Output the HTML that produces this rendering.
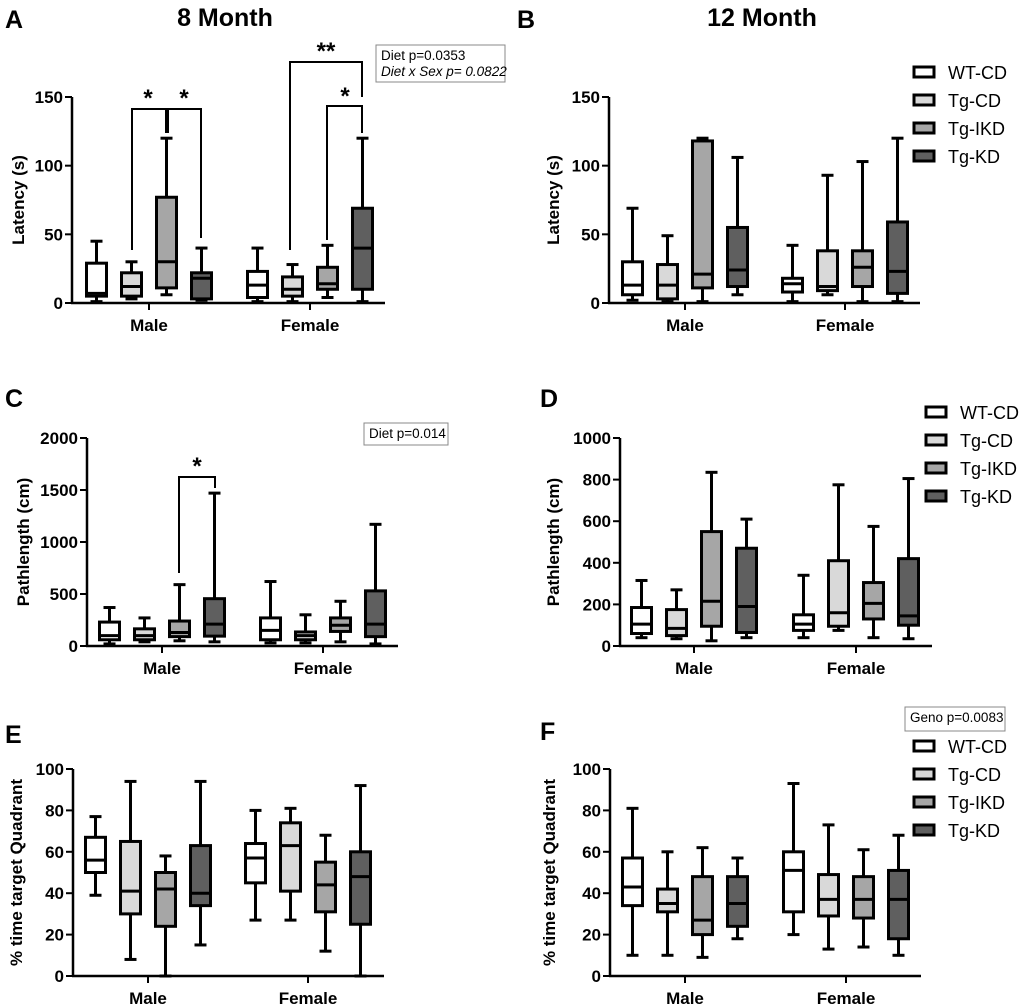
<!DOCTYPE html>
<html><head><meta charset="utf-8"><style>
body{margin:0;background:#fff}
svg{display:block;font-family:"Liberation Sans",Arial,sans-serif}
</style></head><body>
<svg id="fig" width="1020" height="1005" viewBox="0 0 1020 1005"></svg>
<script>
const groups = ["WT-CD","Tg-CD","Tg-IKD","Tg-KD"];
const categories = ["Male","Female"];
const fills = ["#ffffff","#d9d9d9","#a6a6a6","#5f5f5f"];
// [low whisker, q1, median, q3, high whisker] per group per category
const dataA = [[[1,5,7,29,45],[3,5,12,22,30],[6,11,30,77,120],[2,3,18,22,40]],
               [[1,4,13,23,40],[1,5,10,19,28],[4,10,14,26,42],[1,10,40,69,120]]];
const dataB = [[[2,6,13,30,69],[1,3,13,28,49],[1,11,21,118,120],[6,12,24,55,106]],
               [[1,8,14,18,42],[6,9,12,38,93],[1,12,26,38,103],[1,7,23,59,120]]];
const dataC = [[[20,60,100,230,370],[40,60,100,165,270],[50,90,130,240,590],[40,95,210,455,1470]],
               [[30,60,150,270,620],[30,60,100,135,300],[40,140,200,270,430],[20,90,210,530,1170]]];
const dataD = [[[40,60,105,185,315],[35,50,85,175,270],[25,95,215,550,835],[40,65,190,470,610]],
               [[40,75,105,150,340],[75,95,160,410,775],[40,130,205,305,575],[35,100,145,420,805]]];
const dataE = [[[39,50,56,67,77],[8,30,41,65,94],[0,24,42,50,58],[15,34,40,63,94]],
               [[27,45,57,64,80],[27,41,63,74,81],[12,31,44,55,68],[0,25,48,60,92]]];
const dataF = [[[10,34,43,57,81],[10,31,35,42,60],[9,20,27,48,62],[18,24,35,48,57]],
               [[20,31,51,60,93],[13,29,37,49,73],[14,28,37,48,61],[10,18,37,51,68]]];
const ticksLatency = [0,50,100,150];
const ticksPathC = [0,500,1000,1500,2000];
const ticksPathD = [0,200,400,600,800,1000];
const ticksPct = [0,20,40,60,80,100];

const NS="http://www.w3.org/2000/svg";
const svg=document.getElementById('fig');
function el(tag,attrs,parent,text){const e=document.createElementNS(NS,tag);for(const k in attrs)e.setAttribute(k,attrs[k]);if(text!==undefined)e.textContent=text;(parent||svg).appendChild(e);return e;}

const panels=[
 {id:'a',data:dataA,ticks:ticksLatency,max:150,ax:72,y0:303,yt:97,xe:385,cx:[149,310],title:'Latency (s)',tx:24},
 {id:'b',data:dataB,ticks:ticksLatency,max:150,ax:609,y0:303,yt:97,xe:920,cx:[685,845],title:'Latency (s)',tx:559},
 {id:'c',data:dataC,ticks:ticksPathC,max:2000,ax:87,y0:646,yt:438,xe:398,cx:[162,323],title:'Pathlength (cm)',tx:29},
 {id:'d',data:dataD,ticks:ticksPathD,max:1000,ax:620,y0:646,yt:438,xe:932,cx:[694,856],title:'Pathlength (cm)',tx:559},
 {id:'e',data:dataE,ticks:ticksPct,max:100,ax:73,y0:976,yt:769,xe:384,cx:[148,308],title:'% time target Quadrant',tx:22},
 {id:'f',data:dataF,ticks:ticksPct,max:100,ax:610,y0:976,yt:769,xe:921,cx:[685,846],title:'% time target Quadrant',tx:555}
];
const offs=[-52.5,-17.5,17.5,52.5];
panels.forEach(p=>{
  const g=el('g',{});
  
  
  const y=v=>p.y0-(v/p.max)*(p.y0-p.yt);
  el('line',{x1:p.ax,y1:p.yt,x2:p.ax,y2:p.y0,stroke:'#000','stroke-width':2.5},g);
  el('line',{x1:p.ax-1,y1:p.y0,x2:p.xe,y2:p.y0,stroke:'#000','stroke-width':2.5},g);
  p.ticks.forEach(t=>{
    el('line',{x1:p.ax-7,y1:y(t),x2:p.ax,y2:y(t),stroke:'#000','stroke-width':2},g);
    const tl=el('text',{x:p.ax-9,y:y(t)+6,'text-anchor':'end','font-size':17,'font-weight':'bold'},g,t);
    
  });
  const yt=el('text',{x:p.tx,y:(p.y0+p.yt)/2,'text-anchor':'middle','font-size':17,'font-weight':'bold',transform:`rotate(-90 ${p.tx} ${(p.y0+p.yt)/2})`},g,p.title);
  
  categories.forEach((c,ci)=>{
    const cx=p.cx[ci];
    el('line',{x1:cx,y1:p.y0,x2:cx,y2:p.y0+7,stroke:'#000','stroke-width':2},g);
    const cl=el('text',{x:cx,y:p.y0+28,'text-anchor':'middle','font-size':17,'font-weight':'bold'},g,c);
    
    p.data[ci].forEach((d,gi)=>{
      const bx=cx+offs[gi], w=20;
      const bg=el('g',{},g);
      
      
      el('line',{x1:bx,y1:y(d[0]),x2:bx,y2:y(d[4]),stroke:'#000','stroke-width':3},bg);
      el('line',{x1:bx-6,y1:y(d[0]),x2:bx+6,y2:y(d[0]),stroke:'#000','stroke-width':3},bg);
      el('line',{x1:bx-6,y1:y(d[4]),x2:bx+6,y2:y(d[4]),stroke:'#000','stroke-width':3},bg);
      el('rect',{x:bx-w/2,y:y(d[3]),width:w,height:Math.max(1,y(d[1])-y(d[3])),fill:fills[gi],stroke:'#000','stroke-width':3},bg);
      el('line',{x1:bx-w/2,y1:y(d[2]),x2:bx+w/2,y2:y(d[2]),stroke:'#000','stroke-width':3},bg);
    });
  });
});
function legend(x,y0,id){
  groups.forEach((gname,i)=>{
    const lg=el('g',{});
    
    
    el('rect',{x:x,y:y0+i*28-5,width:20,height:10,fill:fills[i],stroke:'#000','stroke-width':3},lg);
    el('text',{x:x+34,y:y0+i*28+7,'font-size':18},lg,gname);
  });
}
legend(914,72,'b');legend(926,412,'d');legend(914,746,'f');
function label(x,y,t,name,size,anchor){const e=el('text',{x:x,y:y,'font-size':size||25,'font-weight':'bold','text-anchor':anchor||'start'},svg,t);}
label(5,28,'A','panel-letter-a');label(517,28,'B','panel-letter-b');
label(5,407,'C','panel-letter-c');label(540,407,'D','panel-letter-d');
label(5,743,'E','panel-letter-e');label(540,740,'F','panel-letter-f');
label(225,26,'8 Month','title-8-month',25,'middle');label(762,26,'12 Month','title-12-month',25,'middle');
function statbox(x,y,w,h,lines,name){
  const g=el('g',{});
  el('rect',{x:x,y:y,width:w,height:h,fill:'#fff',stroke:'#888','stroke-width':1},g);
  lines.forEach((l,i)=>el('text',{x:x+5,y:y+15+i*16,'font-size':13.5,'font-style':l[1]?'italic':'normal'},g,l[0]));
}
statbox(376,45,129,37,[['Diet      p=0.0353',0],['Diet x Sex p= 0.0822',1]],'stat-box-a');
statbox(364,423,84,22,[['Diet p=0.014',0]],'stat-box-c');
statbox(905,707,100,24,[['Geno p=0.0083',0]],'stat-box-f');
function bracket(pts,name){const p=el('polyline',{points:pts,fill:'none',stroke:'#000','stroke-width':2});}
bracket('132,250 132,109 166,109 166,133','sig-bracket-a-male-1');
bracket('168,133 168,109 201,109 201,238','sig-bracket-a-male-2');
bracket('290,250 290,62 362,62 362,97','sig-bracket-a-female-1');
bracket('327,240 327,106 362,106 362,133','sig-bracket-a-female-2');
bracket('179,573 179,477 215,477 215,488','sig-bracket-c-male');
label(148,106,'*','sig-star',24,'middle');label(184,106,'*','sig-star',24,'middle');
label(326,59,'**','sig-star',24,'middle');label(345,104,'*','sig-star',24,'middle');
label(197,474,'*','sig-star',24,'middle');
</script>
</body></html>
